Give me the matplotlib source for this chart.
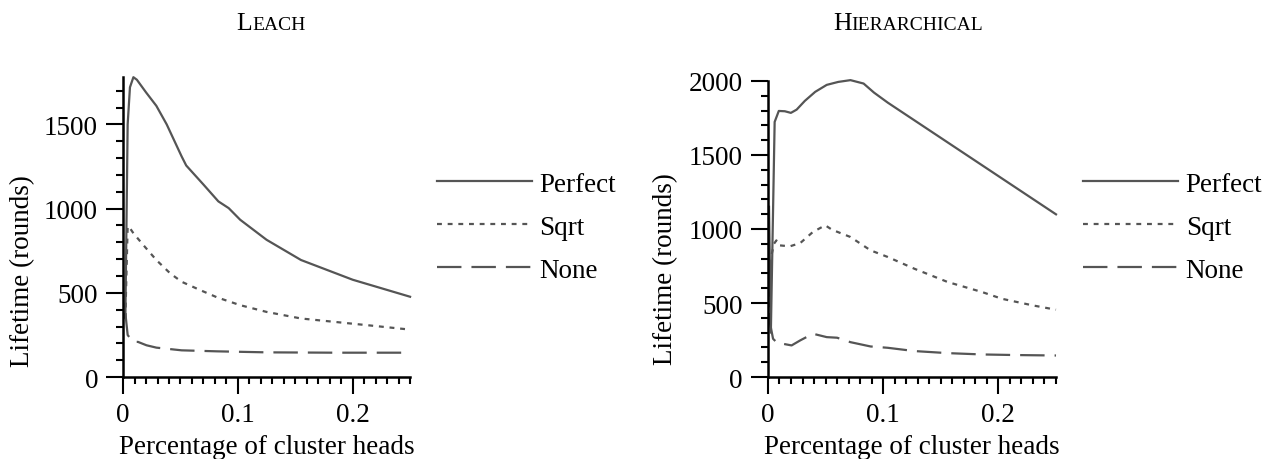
import matplotlib
matplotlib.use("Agg")
import matplotlib.pyplot as plt
from matplotlib.offsetbox import TextArea, HPacker, AnchoredOffsetbox

# LEACH
leach_perfect_x = [0.002, 0.004, 0.006, 0.009, 0.012, 0.02, 0.029, 0.038, 0.051, 0.055,
                   0.07, 0.083, 0.092, 0.102, 0.125, 0.155, 0.2, 0.25]
leach_perfect_y = [350, 1500, 1720, 1780, 1765, 1690, 1610, 1500, 1310, 1256,
                   1143, 1043, 1003, 934, 815, 695, 578, 477]
leach_sqrt_x = [0.002, 0.004, 0.006, 0.009, 0.0175, 0.029, 0.041, 0.051, 0.067, 0.082,
                0.102, 0.125, 0.155, 0.184, 0.213, 0.25]
leach_sqrt_y = [350, 895, 884, 854, 785, 695, 616, 566, 517, 473,
                427, 387, 348, 328, 308, 282]
leach_none_x = [0.002, 0.004, 0.0087, 0.013, 0.0204, 0.029, 0.051, 0.082, 0.125, 0.184, 0.25]
leach_none_y = [380, 250, 209, 209, 189, 175, 159, 153, 147, 145, 145]

# Hierarchical
hier_perfect_x = [0.0009, 0.0025, 0.0058, 0.0094, 0.0146, 0.0199, 0.0249, 0.032, 0.041,
                  0.051, 0.061, 0.0716, 0.083, 0.092, 0.104, 0.25]
hier_perfect_y = [1150, 300, 1723, 1797, 1795, 1784, 1806, 1865, 1926,
                  1973, 1993, 2005, 1982, 1921, 1853, 1099]
hier_sqrt_x = [0.0009, 0.002, 0.0053, 0.0073, 0.0094, 0.019, 0.028, 0.039, 0.0497, 0.0556,
               0.0716, 0.089, 0.104, 0.127, 0.156, 0.186, 0.203, 0.23, 0.25]
hier_sqrt_y = [400, 788, 901, 923, 890, 883, 905, 980, 1025, 995,
               946, 856, 811, 732, 642, 574, 529, 484, 455]
hier_none_x = [0.0009, 0.0044, 0.0088, 0.013, 0.0205, 0.028, 0.039, 0.051, 0.06, 0.0716,
               0.089, 0.104, 0.127, 0.156, 0.186, 0.215, 0.25]
hier_none_y = [400, 259, 225, 225, 214, 248, 293, 270, 266, 236,
               207, 198, 176, 162, 153, 149, 146]

labels = ["Perfect", "Sqrt", "None"]
styles = ["-", (0, (2.2, 2.6)), (0, (11, 4.5))]

SERIF = "Liberation Serif"
plt.rcParams["font.family"] = SERIF
plt.rcParams["font.size"] = 19.5

line_col = "#555555"


def small_caps(fig, word, x, y, big=18.5, small=14):
    # first letter at full size, the rest as smaller capitals
    kids = [TextArea(word[0], textprops=dict(size=big, family=SERIF)),
            TextArea(word[1:].upper(), textprops=dict(size=small, family=SERIF))]
    box = HPacker(children=kids, align="baseline", pad=0, sep=0)
    anc = AnchoredOffsetbox(loc="center", child=box, pad=0, frameon=False,
                            bbox_to_anchor=(x, y), bbox_transform=fig.transFigure,
                            borderpad=0)
    fig.add_artist(anc)


def draw_panel(ax, data, ymax, ymajor):
    for (xs, ys), lab, ls in zip(data, labels, styles):
        ax.plot(xs, ys, color=line_col, lw=1.6, linestyle=ls, label=lab, clip_on=False)
    ax.set_xlim(0, 0.25)
    ax.set_ylim(0, ymax)
    ax.set_xticks([0, 0.1, 0.2])
    ax.set_xticklabels(["0", "0.1", "0.2"])
    ax.set_xticks([i / 100 for i in range(26)], minor=True)
    ax.set_yticks(ymajor)
    ax.set_yticks(range(0, int(ymax) + 1, 100), minor=True)
    for s in ["top", "right"]:
        ax.spines[s].set_visible(False)
    for s in ["left", "bottom"]:
        ax.spines[s].set_linewidth(1.8)
    ax.tick_params(which="major", length=12, width=1.5, pad=6)
    ax.tick_params(which="minor", length=5, width=1.5)
    ax.set_xlabel("Percentage of cluster heads")
    ax.set_ylabel("Lifetime (rounds)")


fig = plt.figure(figsize=(12.7, 4.6), dpi=100)
ax1 = fig.add_axes([0.0969, 0.178, 0.226, 0.652])
ax2 = fig.add_axes([0.6047, 0.178, 0.2268, 0.644])

draw_panel(ax1, [(leach_perfect_x, leach_perfect_y), (leach_sqrt_x, leach_sqrt_y),
                 (leach_none_x, leach_none_y)], 1780, [0, 500, 1000, 1500])
draw_panel(ax2, [(hier_perfect_x, hier_perfect_y), (hier_sqrt_x, hier_sqrt_y),
                 (hier_none_x, hier_none_y)], 2000, [0, 500, 1000, 1500, 2000])

ax1.yaxis.set_label_coords(-0.305, 0.358)
ax2.yaxis.set_label_coords(-0.312, 0.368)
ax1.xaxis.set_label_coords(0.5, -0.19)
ax2.xaxis.set_label_coords(0.5, -0.193)

for ax, lx in [(ax1, 0.344), (ax2, 0.853)]:
    ax.legend(loc="upper left", bbox_to_anchor=(lx, 0.625), bbox_transform=fig.transFigure,
              frameon=False, handlelength=3.5, handletextpad=0.28, labelspacing=0.67,
              borderpad=0, borderaxespad=0)

small_caps(fig, "Leach", 0.2134, 0.948)
small_caps(fig, "Hierarchical", 0.715, 0.948)

fig.savefig("out.png", dpi=100)
